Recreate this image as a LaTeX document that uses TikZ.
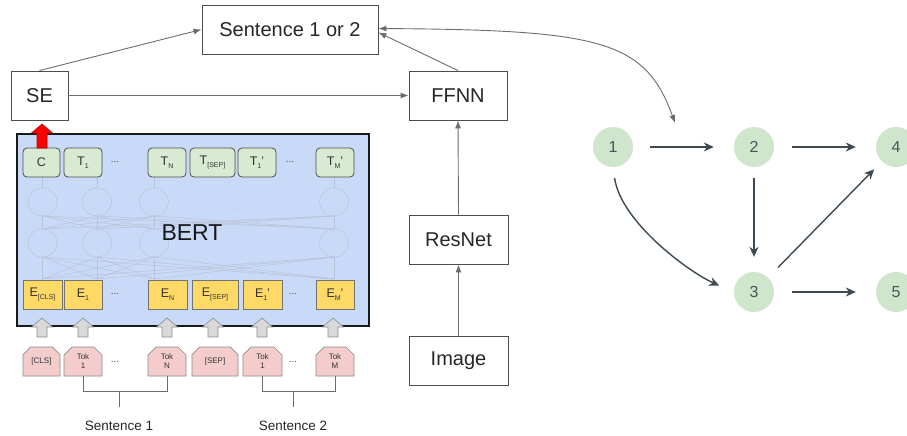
\documentclass[tikz,border=0pt]{standalone}
\usepackage{fontspec}
\setmainfont{Liberation Sans}
\usetikzlibrary{arrows.meta,shapes.misc}
\definecolor{bertblue}{HTML}{C9DAF8}
\definecolor{tgreen}{HTML}{D9EAD3}
\definecolor{eyellow}{HTML}{FFD966}
\definecolor{tokpink}{HTML}{F4CCCC}
\definecolor{gnode}{HTML}{D0E6CC}
\definecolor{gedge}{HTML}{3D4A54}
\definecolor{gtext}{HTML}{4A545A}
\definecolor{conn}{HTML}{6D6D6D}
\definecolor{faintc}{HTML}{B9C3D8}
\definecolor{blkgray}{HTML}{D9D9D9}
\newcommand\sbs[1]{\raisebox{-0.45ex}{\fontsize{7}{8}\selectfont #1}}
% block arrow pointing up: x, y of tip, y of tail, fill, draw
\newcommand\blkarrow[5]{%
  \filldraw[fill=#4,draw=#5,line width=0.6pt]
    (#1,#2) -- (#1+10.5,#2+9) -- (#1+5,#2+9) -- (#1+5,#3) -- (#1-5,#3)
    -- (#1-5,#2+9) -- (#1-10.5,#2+9) -- cycle;}
\begin{document}
\begin{tikzpicture}[x=1pt,y=-1pt,
  bigbox/.style={draw=black!70,line width=0.9pt,fill=white,inner sep=0pt,
    font=\fontsize{20}{24}\selectfont,text=black!85},
  tbox/.style={draw=black!70,line width=0.8pt,fill=tgreen,rounded corners=4pt,
    minimum height=29pt,inner sep=0pt,font=\fontsize{12.5}{14}\selectfont,text=black!80},
  ebox/.style={draw=black!55,line width=0.7pt,fill=eyellow,
    minimum height=29pt,inner sep=0pt,font=\fontsize{12.5}{14}\selectfont,text=black!80},
  tokbox/.style={chamfered rectangle,chamfered rectangle corners={north west,north east},
    chamfered rectangle xsep=4pt,chamfered rectangle ysep=4pt,
    draw=black!45,line width=0.7pt,fill=tokpink,minimum height=29pt,inner sep=0pt,
    font=\fontsize{8}{9}\selectfont,align=center,text=black!80},
  gconn/.style={draw=conn,line width=0.9pt,-{Latex[length=8pt,width=6pt]}},
  gnodes/.style={circle,fill=gnode,minimum size=40pt,inner sep=0pt,
    font=\fontsize{16}{18}\selectfont,text=gtext},
  gedges/.style={draw=gedge,line width=1.4pt,-{Stealth[length=10pt,width=9pt]}},
  faint/.style={draw=faintc,line width=0.5pt},
  dotstyle/.style={font=\fontsize{10}{12}\selectfont,text=black!70,inner sep=0pt},
  bracket/.style={draw=conn,line width=0.9pt}
]
\useasboundingbox (0,0) rectangle (907,436);
\clip (0,0) rectangle (907,436);
\fill[white] (0,0) rectangle (907,436);

% ---- top boxes
\node[bigbox,minimum width=176pt,minimum height=49pt] (sent) at (290,29.5) {Sentence 1 or 2};
\node[bigbox,minimum width=57pt,minimum height=49pt] (se) at (39.5,95.5) {SE};
\node[bigbox,minimum width=98pt,minimum height=49pt] (ffnn) at (458,95.5) {FFNN};
\node[bigbox,minimum width=99pt,minimum height=49pt] (resnet) at (458.5,239.5) {ResNet};
\node[bigbox,minimum width=99pt,minimum height=49pt] (image) at (458.5,360.5) {Image};

% ---- BERT box
\node[draw=black!90,line width=2pt,fill=bertblue,minimum width=352pt,minimum height=192pt,
  inner sep=0pt] (bert) at (193,230) {};

% faint network
\foreach \a in {42.5,97,154,334} {
  \draw[faint] (\a,202) ellipse [x radius=14.5pt,y radius=14pt];
  \draw[faint] (\a,243) ellipse [x radius=14.5pt,y radius=14pt];
  \draw[faint] (\a,188) -- (\a,177);
  \foreach \b in {42.5,97,154,334} {
    \draw[faint] (\a,229) -- (\b,216);
    \draw[faint] (\a,279) -- (\b,257);
  }
}
\node[dotstyle,text=faintc] (fd1) at (240,210) {...};
\node[dotstyle,text=faintc] (fd2) at (240,253) {...};
\node[font=\fontsize{23}{26}\selectfont,text=black!90,inner sep=0pt] (bertlabel) at (192,233) {BERT};

% T row
\node[tbox,minimum width=37pt] (tc) at (41.5,162.5) {C};
\node[tbox,minimum width=38pt] (t1) at (83,162.5) {T\sbs{1}};
\node[dotstyle] (td1) at (115,162) {...};
\node[tbox,minimum width=38pt] (tn) at (167,162.5) {T\sbs{N}};
\node[tbox,minimum width=45pt] (tsep) at (212.5,162.5) {T\sbs{[SEP]}};
\node[tbox,minimum width=38pt] (t1p) at (257,162.5) {T\sbs{1}'};
\node[dotstyle] (td2) at (290,162) {...};
\node[tbox,minimum width=38pt] (tmp) at (335,162.5) {T\sbs{M}'};

% E row
\node[ebox,minimum width=39pt] (ecls) at (42.5,294.5) {E\sbs{[CLS]}};
\node[ebox,minimum width=38pt] (e1) at (83,294.5) {E\sbs{1}};
\node[dotstyle] (ed1) at (115,294) {...};
\node[ebox,minimum width=39pt] (en) at (167.5,294.5) {E\sbs{N}};
\node[ebox,minimum width=46pt] (esep) at (215,294.5) {E\sbs{[SEP]}};
\node[ebox,minimum width=39pt] (e1p) at (262.5,294.5) {E\sbs{1}'};
\node[dotstyle] (ed2) at (293,294) {...};
\node[ebox,minimum width=38pt] (emp) at (335,294.5) {E\sbs{M}'};

% block arrows
\blkarrow{42}{124}{148}{red}{red!75!black}
\foreach \a in {42,83,167,213,262,333} {\blkarrow{\a}{318}{337}{blkgray}{black!45}}

% token row
\node[tokbox,minimum width=37pt] (tcls) at (41.5,361.5) {[CLS]};
\node[tokbox,minimum width=38pt] (tok1) at (83,361.5) {Tok\\1};
\node[dotstyle] (kd1) at (115,362) {...};
\node[tokbox,minimum width=38pt] (tokn) at (167,361.5) {Tok\\N};
\node[tokbox,minimum width=46pt] (toksep) at (215,361.5) {[SEP]};
\node[tokbox,minimum width=39pt] (tok1p) at (262.5,361.5) {Tok\\1};
\node[dotstyle] (kd2) at (293,362) {...};
\node[tokbox,minimum width=38pt] (tokm) at (335,361.5) {Tok\\M};

% brackets
\draw[bracket] (tok1.south) -- ++(0,15) -| (tokn.south);
\draw[bracket] (tok1p.south) -- ++(0,15) -| (tokm.south);
\coordinate (b1) at (119,391);
\coordinate (b2) at (293,391);
\node[font=\fontsize{13.5}{16}\selectfont,text=black!85,inner sep=0pt] (s1) at (119,426) {Sentence 1};
\node[font=\fontsize{13.5}{16}\selectfont,text=black!85,inner sep=0pt] (s2) at (293,426) {Sentence 2};
\draw[bracket] (b1) -- ++(0,16);
\draw[bracket] (b2) -- ++(0,16);

% gray connectors
\draw[gconn] (se.north) -- (sent.west);
\draw[gconn] (ffnn.north) -- ([yshift=-3pt]sent.east);
\draw[gconn] (se.east) -- (ffnn.west);
\draw[gconn] (resnet.north) -- (ffnn.south);
\draw[gconn] (image.north) -- (resnet.south);
\coordinate (gin) at (675,123);
\draw[draw=conn,line width=0.9pt,{Latex[length=8pt,width=6pt]}-{Latex[length=8pt,width=6pt]}]
  ([yshift=1pt]sent.east) .. controls (600,30) and (645,40) .. (gin);

% ---- graph
\node[gnodes] (n1) at (613,147) {1};
\node[gnodes] (n2) at (754,147) {2};
\node[gnodes] (n4) at (896,147) {4};
\node[gnodes] (n3) at (754,292) {3};
\node[gnodes] (n5) at (896,292) {5};
\draw[gedges,shorten <=17pt,shorten >=20pt] (n1) -- (n2);
\draw[gedges,shorten <=18pt,shorten >=20pt] (n2) -- (n4);
\draw[gedges,shorten <=11pt,shorten >=15pt] (n2) -- (n3);
\draw[gedges,shorten <=18pt,shorten >=20pt] (n3) -- (n5);
\draw[gedges,shorten <=14pt,shorten >=11pt] (n3) -- (n4);
\draw[gedges,shorten <=11pt,shorten >=16pt] (n1.south) .. controls +(8,55) and +(-45,-20) .. (n3.west);
\end{tikzpicture}
\end{document}
